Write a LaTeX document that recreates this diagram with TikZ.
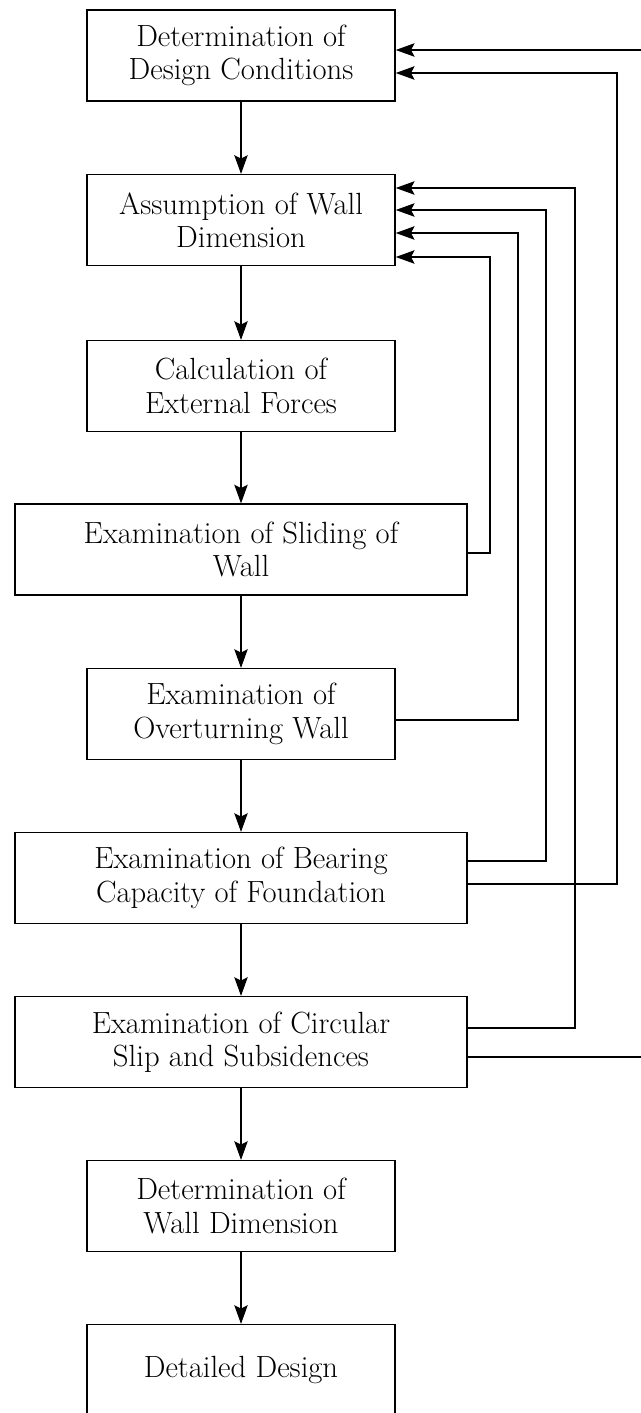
\documentclass[tikz,border=0pt]{standalone}
\usetikzlibrary{arrows.meta}
\begin{document}
\begin{tikzpicture}[x=0.75pt,y=-0.75pt,
  boxn/.style={draw,line width=1.1pt,minimum width=231pt,minimum height=68pt,inner sep=0pt,align=center,font=\fontsize{23}{25}\selectfont},
  boxw/.style={boxn,minimum width=339pt},
  flow/.style={line width=1.4pt,-{Stealth[length=14pt,width=10pt,inset=2.5pt]}},
  fb/.style={flow}]
\clip (0,0) rectangle (641,1413);
\node[boxn] (b1) at (241,55.5) {Determination of\\Design Conditions};
\node[boxn] (b2) at (241,220) {Assumption of Wall\\Dimension};
\node[boxn] (b3) at (241,386) {Calculation of\\External Forces};
\node[boxw] (b4) at (241,549.5) {Examination of Sliding of\\Wall};
\node[boxn] (b5) at (241,714) {Examination of\\Overturning Wall};
\node[boxw] (b6) at (241,878) {Examination of Bearing\\Capacity of Foundation};
\node[boxw] (b7) at (241,1042) {Examination of Circular\\Slip and Subsidences};
\node[boxn] (b8) at (241,1206) {Determination of\\Wall Dimension};
\node[boxn] (b9) at (241,1370) {Detailed Design};
\draw[flow] (b1) -- (b2);
\draw[flow] (b2) -- (b3);
\draw[flow] (b3) -- (b4);
\draw[flow] (b4) -- (b5);
\draw[flow] (b5) -- (b6);
\draw[flow] (b6) -- (b7);
\draw[flow] (b7) -- (b8);
\draw[flow] (b8) -- (b9);
\draw[fb] (b4.east |- 0,553) -| (490,257) -- (b2.east |- 0,257);
\draw[fb] (b5.east |- 0,720) -| (518,233) -- (b2.east |- 0,233);
\draw[fb] (b6.east |- 0,861) -| (546,210) -- (b2.east |- 0,210);
\draw[fb] (b6.east |- 0,884) -| (617,73) -- (b1.east |- 0,73);
\draw[fb] (b7.east |- 0,1028) -| (575,188) -- (b2.east |- 0,188);
\draw[fb] (b7.east |- 0,1057) -| (660,50) -- (b1.east |- 0,50);
\end{tikzpicture}
\end{document}
